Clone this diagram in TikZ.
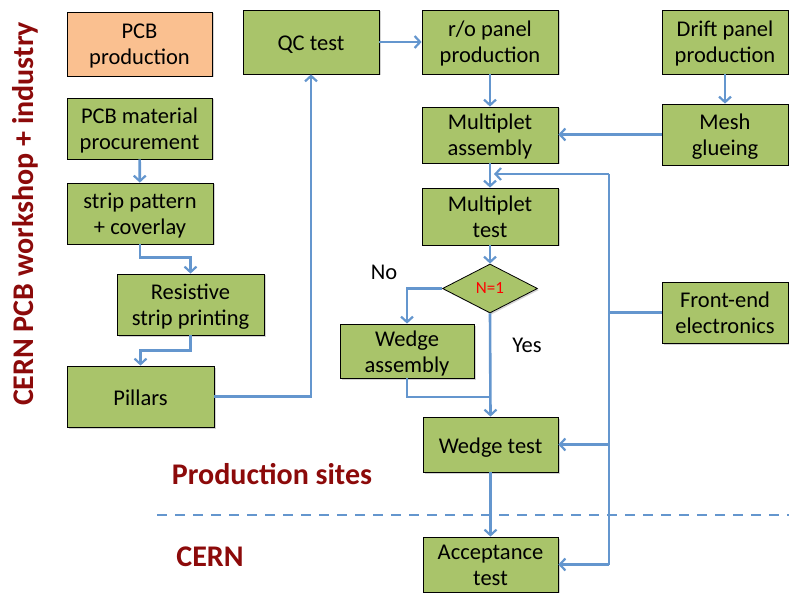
\documentclass[tikz,border=0pt]{standalone}
\usepackage{fontspec}
\setmainfont{Carlito}
\usepackage{tikz}
\usetikzlibrary{arrows.meta,shapes.geometric,shadows}
\definecolor{boxgreen}{RGB}{169,196,106}
\definecolor{boxpeach}{RGB}{250,192,144}
\definecolor{flowblue}{RGB}{100,150,206}
\definecolor{sitered}{RGB}{140,10,10}

\begin{document}
\begin{tikzpicture}[x=1pt, y=-1pt,
    stage/.style={draw=black, line width=0.8pt, fill=boxgreen, align=center, inner sep=0pt,
        font=\fontsize{22.5}{26}\selectfont, text height=24pt, text depth=6pt,
        drop shadow={shadow xshift=1.5pt, shadow yshift=-1.5pt, opacity=0.35}},
    stagetwo/.style={stage, text height=48pt},
    decide/.style={draw=black, line width=0.8pt, fill=boxgreen, shape=diamond, aspect=2, inner sep=0pt,
        font=\fontsize{17}{18}\selectfont, text=red,
        drop shadow={shadow xshift=1.5pt, shadow yshift=-1.5pt, opacity=0.35}},
    flow/.style={draw=flowblue, line width=2.6pt, -{Straight Barb[length=5.5pt,width=12pt,line width=2.2pt]}},
    bus/.style={draw=flowblue, line width=2.6pt},
    site/.style={text=sitered, font=\fontsize{30}{32}\selectfont\bfseries}]
    \useasboundingbox (0,0) rectangle (789,593);
    \node[stagetwo, fill=boxpeach, minimum width=145, minimum height=64] (pcb) at (139.5,44) {PCB\\production};
    \node[stagetwo, minimum width=145, minimum height=61] (material) at (139.5,128.5) {PCB material\\procurement};
    \node[stagetwo, minimum width=146, minimum height=61] (pattern) at (140,213.5) {strip pattern\\+ coverlay};
    \node[stagetwo, minimum width=147, minimum height=61] (resist) at (190.5,304.5) {Resistive\\strip printing};
    \node[stage, minimum width=147, minimum height=61] (pillars) at (140.5,396.5) {Pillars};
    \node[stage, minimum width=136, minimum height=64] (qc) at (311,42) {QC test};
    \node[stagetwo, minimum width=136, minimum height=64] (ropanel) at (490,42) {r/o panel\\production};
    \node[stagetwo, minimum width=126, minimum height=64] (drift) at (725,42) {Drift panel\\production};
    \node[stagetwo, minimum width=136, minimum height=56] (multass) at (490,135) {Multiplet\\assembly};
    \node[stagetwo, minimum width=126, minimum height=61] (mesh) at (725,134.5) {Mesh\\glueing};
    \node[stagetwo, minimum width=136, minimum height=57] (multtest) at (490,216.5) {Multiplet\\test};
    \node[decide, minimum width=95, minimum height=49] (check) at (490,288.5) {N=1};
    \node[stagetwo, minimum width=126, minimum height=61] (frontend) at (725,312.5) {Front-end\\electronics};
    \node[stagetwo, minimum width=134, minimum height=54] (wedgeass) at (407,351) {Wedge\\assembly};
    \node[stage, minimum width=135, minimum height=55] (wedgetest) at (490.5,444.5) {Wedge test};
    \node[stagetwo, minimum width=135, minimum height=55] (accept) at (490.5,564.5) {Acceptance\\test};
    \coordinate (merge) at (490.5,397);
    \coordinate (bustop) at (609,174);
    \coordinate (busbot) at (609,564.5);
    \coordinate (loopend) at (494,174);
    \draw[flow] (material) -- (pattern);
    \draw[flow] (pattern.south) -- ++(0,13) -| (resist.north);
    \draw[flow] (resist.south) -- ++(0,15) -| (pillars.north);
    \draw[flow] (pillars.east) -| (qc.south);
    \draw[flow] (qc) -- (ropanel);
    \draw[flow] (ropanel) -- (multass);
    \draw[flow] (drift) -- (mesh);
    \draw[flow] (mesh.west) -- (multass.east |- mesh.west);
    \draw[flow] (multass) -- (multtest);
    \draw[flow] (multtest) -- (check);
    \draw[flow] (check.west) -| (wedgeass.north);
    \draw[flow] (check.south) -- (wedgetest.north);
    \draw[bus] (wedgeass.south) |- (merge);
    \draw[flow] (wedgetest) -- (accept);
    \draw[bus] (frontend.west) -- (bustop |- frontend.west);
    \draw[bus] (bustop) -- (busbot);
    \draw[flow] (bustop) -- (loopend);
    \draw[flow] (bustop |- wedgetest.east) -- (wedgetest.east);
    \draw[flow] (busbot) -- (accept.east);
    \draw[draw=flowblue, line width=2.6pt, dash pattern=on 10pt off 8pt] (157,515) -- (789,515);
    \node[font=\fontsize{22.5}{26}\selectfont] (no) at (384,272) {No};
    \node[font=\fontsize{22.5}{26}\selectfont] (yes) at (527,345) {Yes};
    \node[site] (sites) at (272,474) {Production sites};
    \node[site] (cern) at (210,557) {CERN};
    \node[site, rotate=90] (workshop) at (25,214) {CERN PCB workshop + industry};
\end{tikzpicture}
\end{document}
